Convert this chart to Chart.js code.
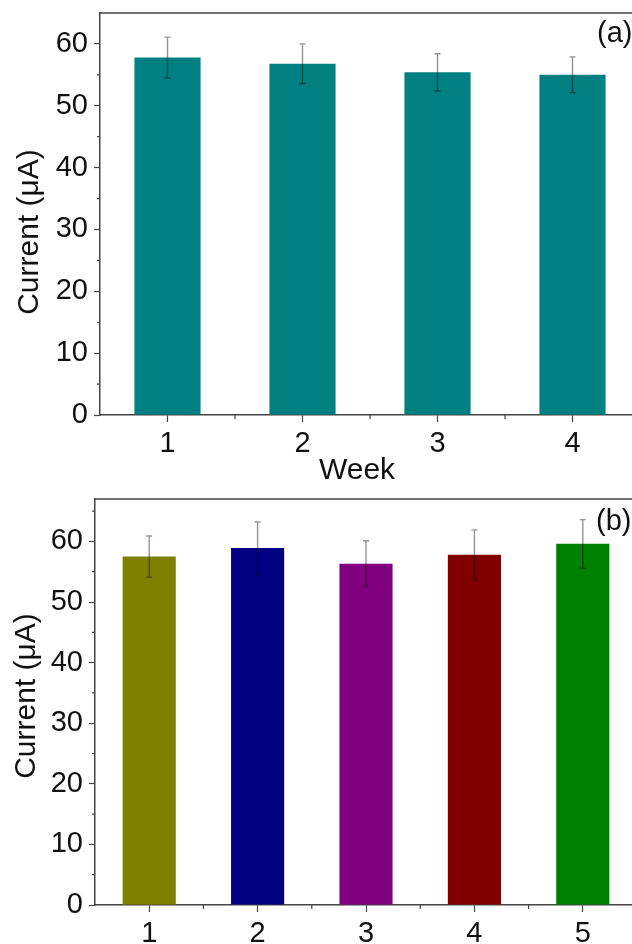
<!DOCTYPE html>
<html>
<head>
<meta charset="utf-8">
<script src="https://cdn.jsdelivr.net/npm/chart.js@4.4.1/dist/chart.umd.min.js"></script>
<style>
  html, body { margin: 0; padding: 0; background: #fff; overflow: hidden; width: 632px; height: 944px; }
  canvas { position: absolute; left: 0; }
  #chartA { top: 0; }
  #chartB { top: 490px; }
</style>
</head>
<body>
<canvas id="chartA" width="680" height="490"></canvas>
<canvas id="chartB" width="680" height="454"></canvas>
<script>
// Panel (a): stability over weeks
const weeks = ["1", "2", "3", "4"];
const weekCurrent = [57.8, 56.8, 55.4, 55.0];
const weekError = [3.3, 3.2, 3.0, 2.9];

// Panel (b): five electrodes
const electrodes = ["1", "2", "3", "4", "5"];
const electrodeCurrent = [57.5, 58.9, 56.3, 57.8, 59.6];
const electrodeError = [3.4, 4.3, 3.8, 4.1, 4.0];
const electrodeColors = ["#808000", "#000080", "#800080", "#800000", "#008000"];

const yTicksA = [0, 10, 20, 30, 40, 50, 60];
const yTicksB = [0, 10, 20, 30, 40, 50, 60];

const FONT = "'Liberation Sans', Arial, sans-serif";
const AXIS = "#444";

// error bars, minor ticks, top frame line and free text
const extras = {
    id: "extras",
    afterDatasetsDraw(chart, args, opts) {
        const ctx = chart.ctx;
        const ys = chart.scales.y, xs = chart.scales.x;
        const area = chart.chartArea;
        const ds = chart.data.datasets[0];
        const meta = chart.getDatasetMeta(0);

        // error bars
        ctx.save();
        ctx.strokeStyle = "rgba(0,0,0,0.42)";
        ctx.lineWidth = 1.4;
        meta.data.forEach((bar, i) => {
            const v = ds.data[i], e = opts.errors[i];
            const top = ys.getPixelForValue(v + e);
            const bot = ys.getPixelForValue(v - e);
            ctx.beginPath();
            ctx.moveTo(bar.x, top); ctx.lineTo(bar.x, bot);
            ctx.moveTo(bar.x - 3, top); ctx.lineTo(bar.x + 3, top);
            ctx.moveTo(bar.x - 3, bot); ctx.lineTo(bar.x + 3, bot);
            ctx.stroke();
        });
        ctx.restore();

        // top frame line (right side is off the picture)
        ctx.save();
        ctx.strokeStyle = AXIS;
        ctx.lineWidth = 1.6;
        ctx.beginPath();
        ctx.moveTo(area.left, area.top);
        ctx.lineTo(chart.width, area.top);
        ctx.stroke();

        // minor ticks
        ctx.beginPath();
        for (let v = 5; v < ys.max; v += 10) {
            const py = ys.getPixelForValue(v);
            ctx.moveTo(area.left - 3, py); ctx.lineTo(area.left, py);
        }
        for (let i = 0; i < chart.data.labels.length - 1; i++) {
            const px = xs.getPixelForValue(i + 0.5);
            ctx.moveTo(px, area.bottom); ctx.lineTo(px, area.bottom + 4);
        }
        ctx.lineWidth = 1.2;
        ctx.stroke();

        // texts
        ctx.fillStyle = "#111";
        ctx.textBaseline = "middle";
        ctx.font = "30px " + FONT;
        ctx.textAlign = "center";
        ctx.save();
        ctx.translate(opts.yTitle[0], opts.yTitle[1]);
        ctx.rotate(-Math.PI / 2);
        ctx.fillText("Current (\u03bcA)", 0, 0);
        ctx.restore();
        if (opts.xTitle) ctx.fillText(opts.xTitle.text, opts.xTitle.x, opts.xTitle.y);
        ctx.font = "29px " + FONT;
        ctx.textAlign = "left";
        ctx.fillText(opts.panel.text, opts.panel.x, opts.panel.y);
        ctx.restore();
    }
};

function makeChart(id, labels, values, errors, colors, yMax, yTicks, sizes, texts) {
    return new Chart(document.getElementById(id), {
        type: "bar",
        data: {
            labels: labels,
            datasets: [{
                data: values,
                backgroundColor: colors,
                borderColor: colors,
                borderWidth: 0,
                barPercentage: 0.49,
                categoryPercentage: 1.0
            }]
        },
        options: {
            responsive: false,
            animation: false,
            devicePixelRatio: 1,
            layout: { padding: sizes.padding },
            plugins: {
                legend: { display: false },
                tooltip: { enabled: false },
                extras: Object.assign({ errors: errors }, texts)
            },
            scales: {
                x: {
                    offset: true,
                    grid: { offset: false, drawOnChartArea: false, tickLength: 7, tickColor: AXIS, tickWidth: 1.2 },
                    border: { color: AXIS, width: 1.5 },
                    ticks: { color: "#111", font: { family: FONT, size: 29 }, padding: 5, maxRotation: 0 },
                    afterFit: s => { s.height = sizes.xHeight; s.paddingLeft = 0; s.paddingRight = 0; }
                },
                y: {
                    min: 0,
                    max: yMax,
                    grid: { drawOnChartArea: false, tickLength: 6, tickColor: AXIS, tickWidth: 1.2 },
                    border: { color: AXIS, width: 1.5 },
                    ticks: { color: "#111", font: { family: FONT, size: 29 }, padding: 6 },
                    afterBuildTicks: s => { s.ticks = yTicks.map(v => ({ value: v })); },
                    afterFit: s => { s.width = sizes.yWidth; s.paddingTop = 0; s.paddingBottom = 0; }
                }
            }
        },
        plugins: [extras]
    });
}

makeChart("chartA", weeks, weekCurrent, weekError, "#008080", 65, yTicksA,
    { padding: { top: 13, right: 40, left: 0, bottom: 0 }, xHeight: 75, yWidth: 100 },
    { yTitle: [30, 232], xTitle: { text: "Week", x: 357, y: 471 }, panel: { text: "(a)", x: 597, y: 34 } });

makeChart("chartB", electrodes, electrodeCurrent, electrodeError, electrodeColors, 67, yTicksB,
    { padding: { top: 9, right: 43, left: 0, bottom: 0 }, xHeight: 39, yWidth: 95 },
    { yTitle: [27, 206], xTitle: null, panel: { text: "(b)", x: 596, y: 32 } });
</script>
</body>
</html>
